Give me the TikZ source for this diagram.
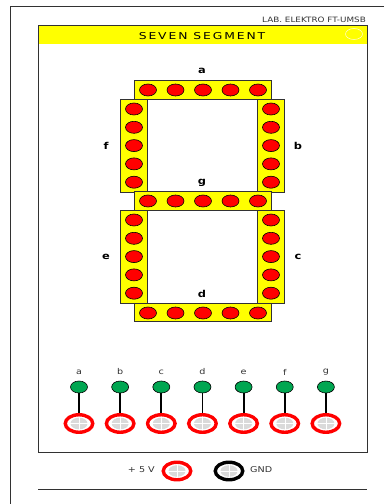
\documentclass[tikz,border=0pt]{standalone}
\usepackage{fontspec}
\usepackage{tikz}
\usetikzlibrary{shapes.geometric}
\setmainfont[FakeStretch=1.2]{DejaVu Sans}
\newfontfamily\titlefont[LetterSpace=20,FakeStretch=1.3]{DejaVu Sans}
\definecolor{ledgreen}{RGB}{0,166,81}
\definecolor{framegray}{RGB}{50,50,50}
\definecolor{panelyellow}{RGB}{255,255,0}
\definecolor{ledred}{RGB}{255,0,0}
\definecolor{hubgray}{RGB}{218,218,218}

\begin{document}
\begin{tikzpicture}[x=1pt, y=-1pt, node distance=27.5pt]
\tikzstyle{hseg} = [draw=framegray, fill=panelyellow, line width=1pt, minimum width=137pt, minimum height=18.5pt, inner sep=0pt]
\tikzstyle{vseg} = [draw=framegray, fill=panelyellow, line width=1pt, minimum width=27pt, minimum height=93pt, inner sep=0pt]
\tikzstyle{led} = [draw=black, fill=ledred, ellipse, line width=0.6pt, minimum width=17pt, minimum height=12pt, inner sep=0pt]
\tikzstyle{pinhead} = [draw=black, fill=ledgreen, ellipse, line width=0.6pt, minimum width=17pt, minimum height=12pt, inner sep=0pt]
\tikzstyle{seglabel} = [font=\fontsize{9.5}{10}\selectfont\bfseries, inner sep=0pt]
\tikzstyle{pinlabel} = [font=\fontsize{8}{8}\selectfont, text=framegray, inner sep=0pt]
\tikzstyle{socket} = [ellipse, fill=white, line width=3.4pt, minimum width=27.5pt, minimum height=17.5pt, inner sep=0pt,
  path picture={
    \fill [hubgray] (path picture bounding box.center) ellipse (8.5pt and 5.8pt);
    \draw [white, line width=0.5pt] ([xshift=-10pt]path picture bounding box.center) -- ([xshift=10pt]path picture bounding box.center);
    \draw [white, line width=0.5pt] ([yshift=-7pt]path picture bounding box.center) -- ([yshift=7pt]path picture bounding box.center);
  }]
\tikzstyle{wire} = [draw=black, line width=1.8pt]

\useasboundingbox (0,0) rectangle (384,504);

% Outer sheet and panel
\draw [framegray, line width=1pt] (384,6) -- (10,6) -- (10,504);
\node [fill=panelyellow, minimum width=329pt, minimum height=19pt, inner sep=0pt] (band) at (202.5,34.5) {};
\node [draw=framegray, line width=1pt, minimum width=329pt, minimum height=427pt, inner sep=0pt] (panel) at (202.5,238.5) {};
\node [draw=yellow!25!white, ellipse, line width=0.6pt, minimum width=17pt, minimum height=11pt, inner sep=0pt] (corner) at (354,34) {};
\node [font=\fontsize{7.35}{7.5}\selectfont, text=framegray, inner sep=0pt, anchor=east] (lab) at (366,19.5) {LAB. ELEKTRO FT-UMSB};
\node [font=\fontsize{9.5}{10}\titlefont, inner sep=0pt] (title) at (202,36.5) {SEVEN SEGMENT};
\coordinate (rule_l) at (38,489);
\coordinate (rule_r) at (367,489);
\draw [framegray, line width=1pt] (rule_l) -- (rule_r);

% Segment bars
\node [hseg] (seg_a) at (202.5,90) {};
\node [vseg] (seg_f) at (133.5,145.5) {};
\node [vseg] (seg_b) at (271,145.5) {};
\node [hseg] (seg_g) at (202.5,201) {};
\node [vseg] (seg_e) at (133.5,256.5) {};
\node [vseg] (seg_c) at (271,256.5) {};
\node [hseg] (seg_d) at (202.5,312.5) {};

% Segment names
\node [seglabel] (name_a) at (202,71) {a};
\node [seglabel] (name_f) at (106,146) {f};
\node [seglabel] (name_b) at (298,146) {b};
\node [seglabel] (name_g) at (202,183) {g};
\node [seglabel] (name_e) at (106,257) {e};
\node [seglabel] (name_c) at (298,257) {c};
\node [seglabel] (name_d) at (202,294) {d};

% LEDs of the horizontal bars
\node [led] (a1) at (148,90) {};
\node [led, right of=a1] (a2) {};
\node [led, right of=a2] (a3) {};
\node [led, right of=a3] (a4) {};
\node [led, right of=a4] (a5) {};
\node [led] (g1) at (148,201) {};
\node [led, right of=g1] (g2) {};
\node [led, right of=g2] (g3) {};
\node [led, right of=g3] (g4) {};
\node [led, right of=g4] (g5) {};
\node [led] (d1) at (148,313) {};
\node [led, right of=d1] (d2) {};
\node [led, right of=d2] (d3) {};
\node [led, right of=d3] (d4) {};
\node [led, right of=d4] (d5) {};

% LEDs of the vertical bars
\node [led] (f1) at (134,109) {};
\node [led, below of=f1, node distance=18.3pt] (f2) {};
\node [led, below of=f2, node distance=18.3pt] (f3) {};
\node [led, below of=f3, node distance=18.3pt] (f4) {};
\node [led, below of=f4, node distance=18.3pt] (f5) {};
\node [led] (b1) at (271,109) {};
\node [led, below of=b1, node distance=18.3pt] (b2) {};
\node [led, below of=b2, node distance=18.3pt] (b3) {};
\node [led, below of=b3, node distance=18.3pt] (b4) {};
\node [led, below of=b4, node distance=18.3pt] (b5) {};
\node [led] (e1) at (134,220) {};
\node [led, below of=e1, node distance=18.3pt] (e2) {};
\node [led, below of=e2, node distance=18.3pt] (e3) {};
\node [led, below of=e3, node distance=18.3pt] (e4) {};
\node [led, below of=e4, node distance=18.3pt] (e5) {};
\node [led] (c1) at (271,220) {};
\node [led, below of=c1, node distance=18.3pt] (c2) {};
\node [led, below of=c2, node distance=18.3pt] (c3) {};
\node [led, below of=c3, node distance=18.3pt] (c4) {};
\node [led, below of=c4, node distance=18.3pt] (c5) {};

% Input sockets
\node [socket, draw=ledred] (sock_a) at (79,423.5) {};
\node [socket, draw=ledred, right of=sock_a, node distance=41.15pt] (sock_b) {};
\node [socket, draw=ledred, right of=sock_b, node distance=41.15pt] (sock_c) {};
\node [socket, draw=ledred, right of=sock_c, node distance=41.15pt] (sock_d) {};
\node [socket, draw=ledred, right of=sock_d, node distance=41.15pt] (sock_e) {};
\node [socket, draw=ledred, right of=sock_e, node distance=41.15pt] (sock_f) {};
\node [socket, draw=ledred, right of=sock_f, node distance=41.15pt] (sock_g) {};

% Green pins
\node [pinhead] (pin_a) at (79,387) {};
\node [pinhead, right of=pin_a, node distance=41.15pt] (pin_b) {};
\node [pinhead, right of=pin_b, node distance=41.15pt] (pin_c) {};
\node [pinhead, right of=pin_c, node distance=41.15pt] (pin_d) {};
\node [pinhead, right of=pin_d, node distance=41.15pt] (pin_e) {};
\node [pinhead, right of=pin_e, node distance=41.15pt] (pin_f) {};
\node [pinhead, right of=pin_f, node distance=41.15pt] (pin_g) {};

% Pin names
\node [pinlabel, above of=pin_a, node distance=15pt] (txt_a) {a};
\node [pinlabel, above of=pin_b, node distance=15pt] (txt_b) {b};
\node [pinlabel, above of=pin_c, node distance=15pt] (txt_c) {c};
\node [pinlabel, above of=pin_d, node distance=15pt] (txt_d) {d};
\node [pinlabel, above of=pin_e, node distance=15pt] (txt_e) {e};
\node [pinlabel, above of=pin_f, node distance=15pt] (txt_f) {f};
\node [pinlabel, above of=pin_g, node distance=15pt] (txt_g) {g};

% Wires
\draw [wire] (pin_a) -- (sock_a);
\draw [wire] (pin_b) -- (sock_b);
\draw [wire] (pin_c) -- (sock_c);
\draw [wire] (pin_d) -- (sock_d);
\draw [wire] (pin_e) -- (sock_e);
\draw [wire] (pin_f) -- (sock_f);
\draw [wire] (pin_g) -- (sock_g);

% Supply sockets
\node [socket, draw=ledred] (sock_vcc) at (177,471) {};
\node [socket, draw=black] (sock_gnd) at (229,471) {};
\node [pinlabel, anchor=east] (txt_vcc) at (155,470) {+ 5 V};
\node [pinlabel, anchor=west] (txt_gnd) at (250,470) {GND};

\end{tikzpicture}
\end{document}
